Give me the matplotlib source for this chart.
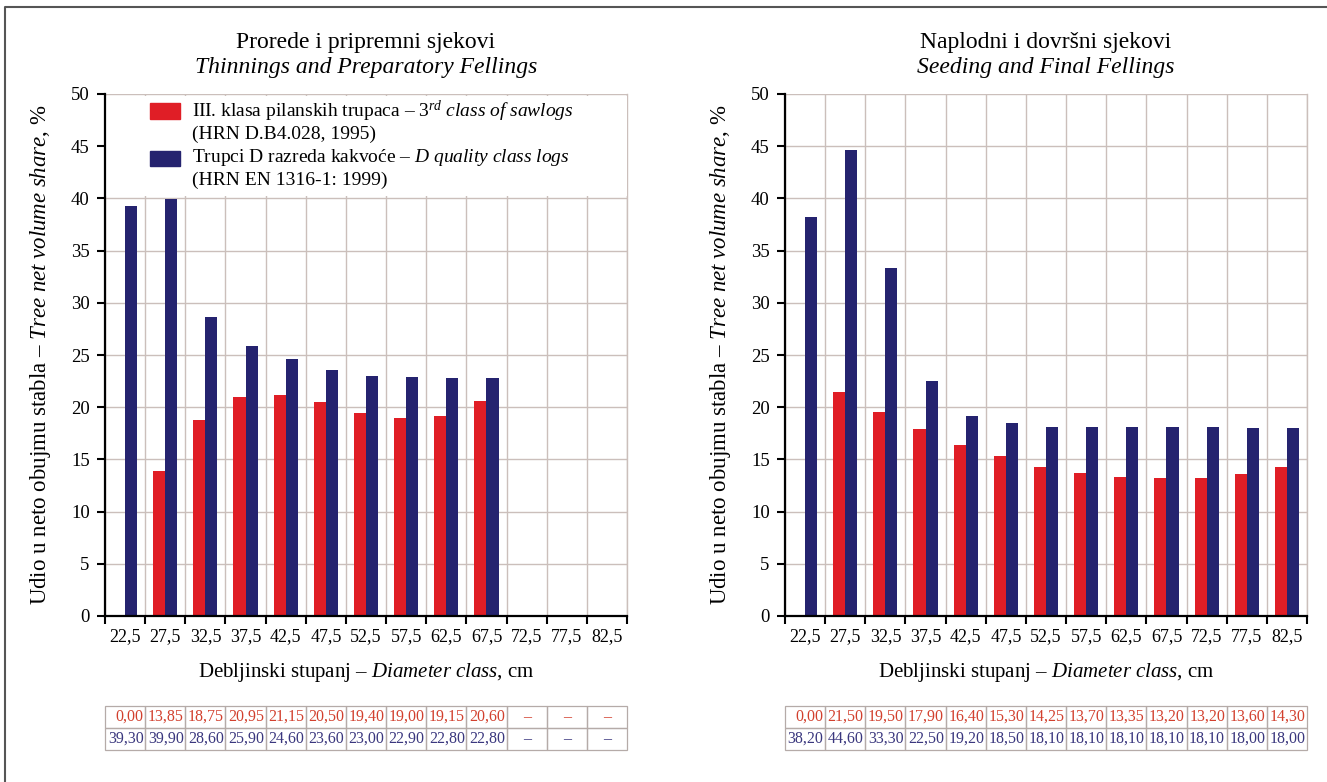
import numpy as np
import matplotlib
matplotlib.use("Agg")
import matplotlib.pyplot as plt
from matplotlib.patches import Rectangle
from matplotlib.lines import Line2D

plt.rcParams['font.family'] = ['Liberation Serif', 'DejaVu Serif']
plt.rcParams['mathtext.fontset'] = 'custom'
plt.rcParams['mathtext.rm'] = 'Liberation Serif'
plt.rcParams['mathtext.it'] = 'Liberation Serif:italic'

# ---------------- data ----------------
diameter_classes = ["22,5", "27,5", "32,5", "37,5", "42,5", "47,5", "52,5",
                    "57,5", "62,5", "67,5", "72,5", "77,5", "82,5"]

thin_sawlogs = [0.00, 13.85, 18.75, 20.95, 21.15, 20.50, 19.40, 19.00, 19.15, 20.60, None, None, None]
thin_dlogs = [39.30, 39.90, 28.60, 25.90, 24.60, 23.60, 23.00, 22.90, 22.80, 22.80, None, None, None]

seed_sawlogs = [0.00, 21.50, 19.50, 17.90, 16.40, 15.30, 14.25, 13.70, 13.35, 13.20, 13.20, 13.60, 14.30]
seed_dlogs = [38.20, 44.60, 33.30, 22.50, 19.20, 18.50, 18.10, 18.10, 18.10, 18.10, 18.10, 18.00, 18.00]

yticks = [0, 5, 10, 15, 20, 25, 30, 35, 40, 45, 50]

titles = [("Prorede i pripremni sjekovi", "Thinnings and Preparatory Fellings"),
          ("Naplodni i dovršni sjekovi", "Seeding and Final Fellings")]

legend_labels = [r"III. klasa pilanskih trupaca – $\mathit{3^{rd}\ class\ of\ sawlogs}$",
                 "(HRN D.B4.028, 1995)",
                 r"Trupci D razreda kakvoće – $\mathit{D\ quality\ class\ logs}$",
                 "(HRN EN 1316-1: 1999)"]

ylabel = r"Udio u neto obujmu stabla – $\mathit{Tree\ net\ volume\ share}$, %"
xlabel = r"Debljinski stupanj – $\mathit{Diameter\ class}$, cm"

RED = "#E01E26"
BLUE = "#25236F"
RED_TXT = "#D2402E"
BLUE_TXT = "#3A377E"
GRID = "#CBBFBB"


def to_arr(v):
    return np.array([np.nan if x is None else x for x in v], dtype=float)


def fmt(v):
    return "–" if v is None else f"{v:.2f}".replace(".", ",")


fig = plt.figure(figsize=(13.27, 7.82), dpi=100)
fig.patch.set_facecolor("white")

# frame lines (top and left)
fig.add_artist(Line2D([0.0038, 0.0038, 1.0], [0.0, 0.991, 0.991],
                      transform=fig.transFigure, color="#555555", lw=1.5))

ax_w = 522 / 1327
ax_h = 522 / 782
bottom = (782 - 616) / 782
lefts = [105 / 1327, 785 / 1327]
datasets = [(thin_sawlogs, thin_dlogs), (seed_sawlogs, seed_dlogs)]

n = len(diameter_classes)
centers = np.arange(n) + 0.5
bw = 0.3

for k in range(2):
    ax = fig.add_axes([lefts[k], bottom, ax_w, ax_h])
    red_v, blue_v = datasets[k]
    ax.set_axisbelow(True)
    ax.bar(centers - bw / 2, to_arr(red_v), width=bw, color=RED, zorder=2)
    ax.bar(centers + bw / 2, to_arr(blue_v), width=bw, color=BLUE, zorder=2)
    ax.set_xlim(0, n)
    ax.set_ylim(0, 50)
    ax.set_yticks(yticks)
    ax.set_yticklabels([str(t) for t in yticks], fontsize=13.5)
    ax.set_xticks(np.arange(n + 1))
    ax.set_xticklabels([])
    ax.set_xticks(centers, minor=True)
    ax.set_xticklabels(diameter_classes, minor=True, fontsize=13)
    ax.tick_params(axis="x", which="major", direction="out", length=6, width=1.5)
    ax.tick_params(axis="x", which="minor", length=0, pad=9)
    ax.tick_params(axis="y", direction="out", length=6, width=1.5, pad=5)
    ax.grid(True, which="major", color=GRID, lw=1.0)
    for s in ("top", "right"):
        ax.spines[s].set_visible(False)
    for s in ("left", "bottom"):
        ax.spines[s].set_linewidth(1.6)
    ax.axvline(n, color=GRID, lw=1.0, zorder=0.5, clip_on=False)
    ax.set_ylabel(ylabel, fontsize=16.5)
    ax.yaxis.set_label_coords(-0.10, 0.5)
    ax.set_xlabel(xlabel, fontsize=15)
    ax.xaxis.set_label_coords(0.5, (616 - 661) / 522)
    ax.text(0.5, 1.098, titles[k][0], transform=ax.transAxes, ha="center",
            va="center", fontsize=17)
    ax.text(0.5, 1.05, titles[k][1], transform=ax.transAxes, ha="center",
            va="center", fontsize=17, style="italic")

    if k == 0:
        # white legend background covering grid
        ax.axhspan(40.25, 49.85, color="white", zorder=0.6, lw=0)
        hx = (150 - 105) / 522
        hw = 30 / 522
        tx = (192 - 105) / 522
        ys = [(616 - p) / 522 for p in (111, 134, 158, 180)]
        cols = [RED, None, BLUE, None]
        for lab, yy, c in zip(legend_labels, ys, cols):
            if c is not None:
                ax.add_patch(Rectangle((hx, yy - 7.5 / 522), hw, 15 / 522,
                                       transform=ax.transAxes, color=c,
                                       zorder=3, clip_on=False))
            ax.text(tx, yy, lab, transform=ax.transAxes, ha="left",
                    va="center", fontsize=14, zorder=3)

    # data table below
    cw = 1.0 / n
    rh = 22 / 522
    y_top = (616 - 706) / 522
    for r, (vals, col) in enumerate([(red_v, RED_TXT), (blue_v, BLUE_TXT)]):
        y0 = y_top - (r + 1) * rh
        for i, v in enumerate(vals):
            ax.add_patch(Rectangle((i * cw, y0), cw, rh, transform=ax.transAxes,
                                   facecolor="none", edgecolor="#B5ABA8",
                                   lw=0.9, clip_on=False))
            if v is None:
                ax.text((i + 0.5) * cw, y0 + rh / 2, "–", transform=ax.transAxes,
                        ha="center", va="center", fontsize=11.5, color=col)
            else:
                ax.text((i + 1) * cw - 0.003, y0 + rh / 2, fmt(v),
                        transform=ax.transAxes, ha="right", va="center",
                        fontsize=11.5, color=col)

fig.savefig("out.png", dpi=100, facecolor="white")
